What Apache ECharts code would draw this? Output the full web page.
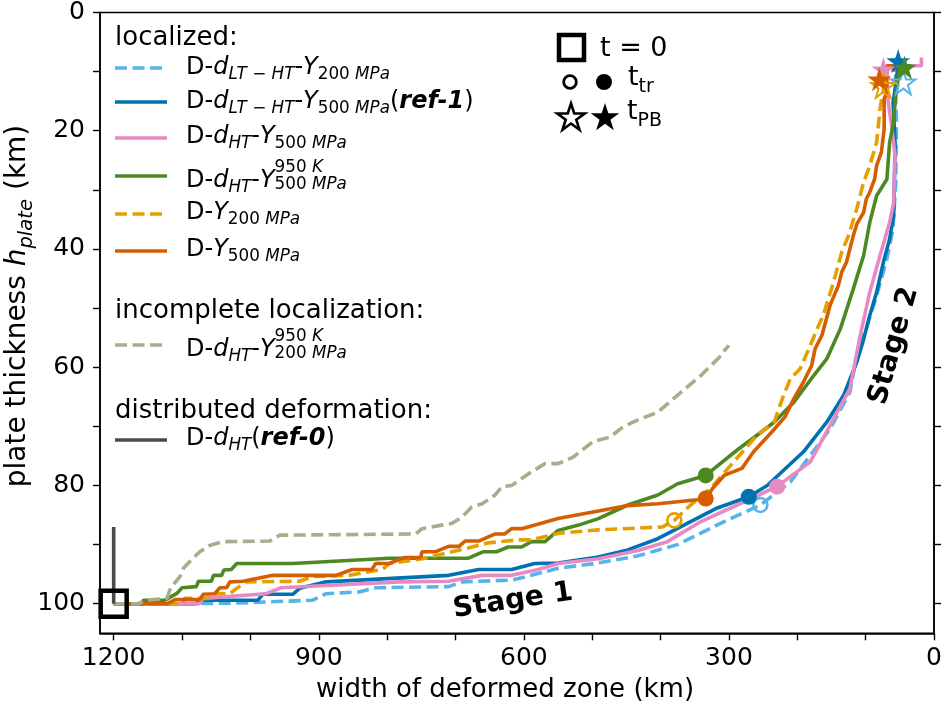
<!DOCTYPE html>
<html>
<head>
<meta charset="utf-8">
<script src="https://cdn.jsdelivr.net/npm/echarts@6/dist/echarts.min.js"></script>
<style>
  html, body { margin: 0; padding: 0; background: #fff; }
  #chart { width: 945px; height: 703px; }
</style>
</head>
<body>
<div id="chart"></div>
<script>
// ticks / labels
const xTicks = [0, 100, 200, 300, 400, 500, 600, 700, 800, 900, 1000, 1100, 1200]
const xLabels = [0, 300, 600, 900, 1200]
const yTicks = [0, 10, 20, 30, 40, 50, 60, 70, 80, 90, 100]
const yLabels = [0, 20, 40, 60, 80, 100]

// [width of deformed zone (km), plate thickness (km)]
const dLTHT_Y200 = [[1200,100],[1100,100],[1025,99.9],[909,99.4],[889,98.3],[841,98],[817,97.3],[710,97.1],[690,96.3],[618,96],[589,95.2],[550,94.0],[491,93.1],[433,91.9],[375,90.0],[307,86.1],[254,83.3],[210,79.4],[152,70.4],[123,64.2],[113,58.0],[98,53.0],[84,47.9],[69,41.7],[60,36.6],[56,28.7],[55,18],[57,12.5],[55,7.6]]
const dLTHT_Y500 = [[1200,100],[1080,100],[1074,99.4],[989,99.4],[982,98.4],[938,98.4],[928,97.4],[889,96.3],[710,95.2],[666,94.2],[618,94.2],[584,93.2],[550,93.1],[491,92.1],[448,90.9],[404,89.0],[356,86.1],[317,83.8],[271,81.9],[244,80.0],[191,74.3],[157,69.3],[132,64.7],[113,59.1],[104,55.7],[94,51.2],[84,47.3],[74,42.2],[65,38.3],[59,34.3],[57,22.0],[60,15.2],[57,13],[52,8.4]]
const dHT_Y500 = [[1200,100],[1075,100],[1069,99.1],[977,98.3],[955,97.3],[782,96.3],[710,96.2],[661,95.2],[618,95.2],[579,94.2],[550,93.2],[491,92.4],[433,91.0],[390,89.5],[341,86.1],[288,83.3],[230,80.2],[181,76],[152,69.8],[123,63.6],[108,54.6],[94,47.3],[79,41.1],[65,35.5],[59,32.1],[57,24.2],[62,19.1],[67,15.2],[69,11.8],[74,9.6],[55,9.0],[45,9.0],[18.5,9.0],[18.5,7.6]]
const dHT_Y500_950 = [[1200,100],[1160,100],[1156,99.4],[1125,99.4],[1108,98.3],[1100,97.3],[1079,97.1],[1076,96.2],[1057,96.2],[1054,95.2],[1042,95.2],[1039,94.3],[1028,94.2],[1020,93.2],[938,93.2],[797,92.3],[681,92.3],[659,91.2],[640,91.2],[623,90.4],[603,90.4],[589,89.5],[569,89.5],[550,87.6],[520,86.7],[491,85.6],[448,83.3],[404,81.6],[375,79.7],[334,78.3],[288,74.0],[259,71.5],[234,69.3],[205,65.9],[176,61.4],[157,58.6],[137,53.5],[118,46.7],[103,41.1],[94,35.5],[84,31.0],[69,28.2],[65,22.0],[60,19.1],[56,14.1],[52,10.7],[48,9.0],[33,9.0]]
const Y200 = [[1200,100],[1100,100],[1096,99.1],[1059,99.1],[1052,98.3],[1030,98.3],[1020,97.4],[1006,96.3],[928,96.2],[909,95.4],[856,95.2],[807,94.2],[797,93.2],[744,92.3],[705,91.2],[676,90.4],[652,89.7],[608,89.2],[589,89.2],[550,88.1],[491,87.5],[433,87.2],[397,87.0],[380,85.9],[356,83.3],[327,80.5],[293,76],[259,71.5],[234,69.3],[220,64.7],[210,61.9],[196,60.3],[181,56.3],[171,53.5],[162,51.2],[147,45.6],[135,40.5],[125,37.7],[113,33.2],[103,28.7],[94,25.9],[84,22.0],[79,16.3],[75,13.5],[72,11.8]]
const Y500 = [[1200,100],[1122,100],[1110,99.3],[1074,99.3],[1069,98.4],[1052,98.3],[1045,97.3],[1035,97.3],[1030,96.3],[1011,96.2],[967,95.2],[875,95.2],[851,94.2],[822,94.2],[817,93.2],[797,93.2],[775,92.2],[751,92.2],[749,91.2],[729,91.2],[710,90.3],[695,90.3],[686,89.4],[666,89.4],[642,88.2],[628,88.2],[618,87.3],[603,87.3],[550,85.6],[491,84.3],[448,83.4],[404,83.1],[346,82.4],[334,82.2],[324,80.5],[307,78.3],[281,77.1],[264,74.3],[237,70.9],[218,68.4],[205,65.3],[191,62.5],[179,59.7],[174,56.9],[164,54.6],[152,49.5],[140,46.2],[135,43.9],[128,42.2],[118,37.7],[113,35.8],[103,33.8],[99,31.5],[94,30.4],[87,28.2],[84,25.9],[77,23.6],[73,19.7],[73,14.6],[69,13.5],[69,9.0],[60,9.0],[57,10]]
const dHT_Y200_950 = [[1200,100],[1165,100],[1151,99.4],[1122,99.1],[1117,97.4],[1103,95.4],[1098,94.0],[1084,92.3],[1074,91.2],[1059,90.1],[1040,89.5],[972,89.4],[957,88.4],[758,88.2],[749,87.3],[705,86.4],[690,85.3],[676,83.6],[661,83.1],[642,81.6],[632,80.2],[618,80.0],[589,77.7],[569,76.3],[550,76.3],[528,75.2],[499,72.6],[474,71.8],[455,70.1],[433,68.9],[404,67.6],[375,64.7],[341,61.4],[314,58.3],[307,57.2],[300,56.3]]
const dHT_ref0 = [[1200,100],[1200,87]]

// t = 0, t_tr, t_PB
const tStart = [[1200, 100]]
const tTr = [[254,83.3],[271,81.9],[229.5,80.2],[334,78.3],[380,85.9],[334,82.2]]
const tPB = [[45,11.8],[52.4,8.2],[74,9.6],[43,9.3],[74.4,12.4],[80,11.3]]
const hollow = [true, false, false, false, true, false]

const colors = ['#56B4E9', '#0072B2', '#E78AC3', '#4D8923', '#E69F00', '#D55E00', '#A9AD8D', '#4A4A4A']
const dashed = [true, false, false, false, true, false, true, false]
const curves = [dLTHT_Y200, dLTHT_Y500, dHT_Y500, dHT_Y500_950, Y200, Y500, dHT_Y200_950, dHT_ref0]

const FONT = '"DejaVu Sans", sans-serif'
const STAR = 'path://M50 0L61.23 34.55L97.55 34.55L68.16 55.9L79.39 90.45L50 69.1L20.61 90.45L31.84 55.9L2.45 34.55L38.77 34.55Z'
const LW = 3.6

const meas = document.createElement('canvas').getContext('2d')

// lay out a run of text pieces on one baseline (sub/superscripts via dy)
function mtext(x0, base, parts) {
  const els = []
  let x = x0, saved = x0
  parts.forEach(p => {
    if (p === 'save') { saved = x; return }
    if (p === 'back') { x = saved; return }
    const s = p.s || 24
    const st = p.i ? 'italic' : 'normal'
    const wt = p.b ? 'bold' : 'normal'
    meas.font = st + ' ' + wt + ' ' + s + 'px ' + FONT
    els.push({
      type: 'text', x: x, y: base + (p.dy || 0) - 0.35 * s, silent: true,
      style: { text: p.t, fontSize: s, fontFamily: FONT, fontStyle: st, fontWeight: wt, fill: '#000', align: 'left', verticalAlign: 'middle' }
    })
    x += meas.measureText(p.t).width
  })
  els.width = x - x0
  return els
}

const N = (t) => ({ t: t })
const I = (t) => ({ t: t, i: true })
const B = (t) => ({ t: t, i: true, b: true })
const sb = (t, i) => ({ t: t, i: i, s: 16.8, dy: 4.3 })
const sb2 = (t, i) => ({ t: t, i: i, s: 16.8, dy: 1.7 })
const sp = (t, i) => ({ t: t, i: i, s: 16.8, dy: -15 })

const legendRows = [
  { k: 0, y: 68, base: 76, parts: [N('D-'), I('d'), sb('LT', true), sb(' \u2212 '), sb('HT', true), N('-'), I('Y'), sb('200 '), sb('MPa', true)] },
  { k: 1, y: 102, base: 110, parts: [N('D-'), I('d'), sb('LT', true), sb(' \u2212 '), sb('HT', true), N('-'), I('Y'), sb('500 '), sb('MPa', true), N('('), B('ref-1'), N(')')] },
  { k: 2, y: 138, base: 145.5, parts: [N('D-'), I('d'), sb('HT', true), N('-'), I('Y'), sb('500 '), sb('MPa', true)] },
  { k: 3, y: 176, base: 189, parts: [N('D-'), I('d'), sb('HT', true), N('-'), I('Y'), 'save', sp('950 '), sp('K', true), 'back', sb2('500 '), sb2('MPa', true)] },
  { k: 4, y: 214, base: 221.5, parts: [N('D-'), I('Y'), sb('200 '), sb('MPa', true)] },
  { k: 5, y: 251, base: 258.5, parts: [N('D-'), I('Y'), sb('500 '), sb('MPa', true)] },
  { k: 6, y: 345, base: 358, parts: [N('D-'), I('d'), sb('HT', true), N('-'), I('Y'), 'save', sp('950 '), sp('K', true), 'back', sb2('200 '), sb2('MPa', true)] },
  { k: 7, y: 440, base: 447.5, parts: [N('D-'), I('d'), sb('HT', true), N('('), B('ref-0'), N(')')] }
]

function starPoints(cx, cy, r) {
  const pts = []
  for (let i = 0; i < 10; i++) {
    const a = -Math.PI / 2 + i * Math.PI / 5
    const rr = i % 2 ? r * 0.382 : r
    pts.push([cx + rr * Math.cos(a), cy + rr * Math.sin(a)])
  }
  return pts
}

const graphic = []
const header = (t, y) => ({ type: 'text', x: 115, y: y, silent: true, style: { text: t, fontSize: 26, fontFamily: FONT, fill: '#000', verticalAlign: 'middle' } })
graphic.push(header('localized:', 38), header('incomplete localization:', 311), header('distributed deformation:', 411))
legendRows.forEach(r => {
  graphic.push({
    type: 'line', silent: true,
    shape: { x1: 115, y1: r.y, x2: 167, y2: r.y },
    style: { stroke: colors[r.k], lineWidth: LW, lineDash: dashed[r.k] ? [12, 5.5] : null }
  })
  mtext(186, r.base, r.parts).forEach(e => graphic.push(e))
})

// marker key, upper middle
graphic.push(
  { type: 'rect', silent: true, shape: { x: 559, y: 35, width: 25, height: 25 }, style: { fill: 'none', stroke: '#000', lineWidth: 4.5 } },
  { type: 'circle', silent: true, shape: { cx: 570, cy: 82, r: 6.3 }, style: { fill: 'none', stroke: '#000', lineWidth: 2.8 } },
  { type: 'circle', silent: true, shape: { cx: 604, cy: 82, r: 8 }, style: { fill: '#000' } },
  { type: 'polygon', silent: true, shape: { points: starPoints(571, 118, 14.5) }, style: { fill: 'none', stroke: '#000', lineWidth: 2.6 } },
  { type: 'polygon', silent: true, shape: { points: starPoints(605, 118, 15) }, style: { fill: '#000' } }
)
mtext(600, 58, [{ t: 't = 0', s: 27 }]).forEach(e => graphic.push(e))
mtext(628, 87, [{ t: 't', s: 27 }, { t: 'tr', s: 19, dy: 7 }]).forEach(e => graphic.push(e))
mtext(627, 121, [{ t: 't', s: 27 }, { t: 'PB', s: 19, dy: 7 }]).forEach(e => graphic.push(e))

// stage labels
graphic.push(
  { type: 'text', x: 513, y: 601, rotation: 0.145, silent: true, style: { text: 'Stage 1', fontSize: 28, fontWeight: 'bold', fontFamily: FONT, fill: '#000', align: 'center', verticalAlign: 'middle' } },
  { type: 'text', x: 894, y: 346, rotation: 1.30, silent: true, style: { text: 'Stage 2', fontSize: 28, fontWeight: 'bold', fontFamily: FONT, fill: '#000', align: 'center', verticalAlign: 'middle' } }
)

// axis titles
const xl = mtext(0, 0, [{ t: 'width of deformed zone (km)', s: 26 }])
xl.forEach(e => { e.x += 505 - xl.width / 2; e.y += 699; graphic.push(e) })
const yl = mtext(0, 0, [{ t: 'plate thickness ', s: 28 }, { t: 'h', s: 28, i: true }, { t: 'plate', s: 19.6, i: true, dy: 6 }, { t: ' (km)', s: 28 }])
graphic.push({ type: 'group', x: 28, y: 306 + yl.width / 2, rotation: Math.PI / 2, children: yl })

const series = curves.map((d, k) => ({
  type: 'line', data: d, symbol: 'none', showSymbol: false, z: 2 + k * 0.01,
  lineStyle: { color: colors[k], width: LW, type: dashed[k] ? [12, 5.5] : 'solid', cap: 'butt' },
  itemStyle: { color: colors[k] }, silent: true
}))
series.push({
  type: 'scatter', data: tTr.map((p, k) => ({
    value: p,
    symbolSize: hollow[k] ? 14 : 16,
    itemStyle: hollow[k] ? { color: 'rgba(0,0,0,0)', borderColor: colors[k], borderWidth: 2.6, opacity: 1 } : { color: colors[k], opacity: 1 }
  })), symbol: 'circle', z: 4, silent: true
})
series.push({
  type: 'scatter', data: tPB.map((p, k) => ({
    value: p,
    itemStyle: hollow[k] ? { color: 'rgba(0,0,0,0)', borderColor: colors[k], borderWidth: 2, opacity: 1 } : { color: colors[k], opacity: 1 }
  })), symbol: STAR, symbolSize: 24, z: 4, silent: true
})
series.push({
  type: 'scatter', data: tStart, symbol: 'rect', symbolSize: 26, z: 5, silent: true,
  itemStyle: { color: 'rgba(0,0,0,0)', borderColor: '#000', borderWidth: 4.5, opacity: 1 }
})

const axisText = { fontSize: 25, fontFamily: FONT, color: '#000', formatter: v => String(v) }
const chart = echarts.init(document.getElementById('chart'), null, { renderer: 'canvas' })
chart.setOption({
  animation: false,
  backgroundColor: '#fff',
  grid: { left: 100, right: 7.3, top: 10, bottom: 69.7, show: true, borderColor: '#000', borderWidth: 1.6 },
  xAxis: [{
    type: 'value', min: 0, max: 1220, inverse: true,
    axisLine: { show: true, onZero: false, lineStyle: { color: '#000', width: 1.6 } },
    axisTick: { show: true, length: 7, customValues: xTicks, lineStyle: { color: '#000', width: 1.4 } },
    axisLabel: Object.assign({ customValues: xLabels, margin: 13 }, axisText),
    splitLine: { show: false }
  }],
  yAxis: [{
    type: 'value', min: 0, max: 105, inverse: true,
    axisLine: { show: true, onZero: false, lineStyle: { color: '#000', width: 1.6 } },
    axisTick: { show: true, length: 7, customValues: yTicks, lineStyle: { color: '#000', width: 1.4 } },
    axisLabel: Object.assign({ customValues: yLabels, margin: 15 }, axisText),
    splitLine: { show: false }
  }, {
    type: 'value', min: 0, max: 105, inverse: true, position: 'right',
    axisLine: { show: true, onZero: false, lineStyle: { color: '#000', width: 1.6 } },
    axisTick: { show: true, length: 7, customValues: yTicks, lineStyle: { color: '#000', width: 1.4 } },
    axisLabel: { show: false },
    splitLine: { show: false }
  }],
  graphic: graphic,
  series: series
})
</script>
</body>
</html>
